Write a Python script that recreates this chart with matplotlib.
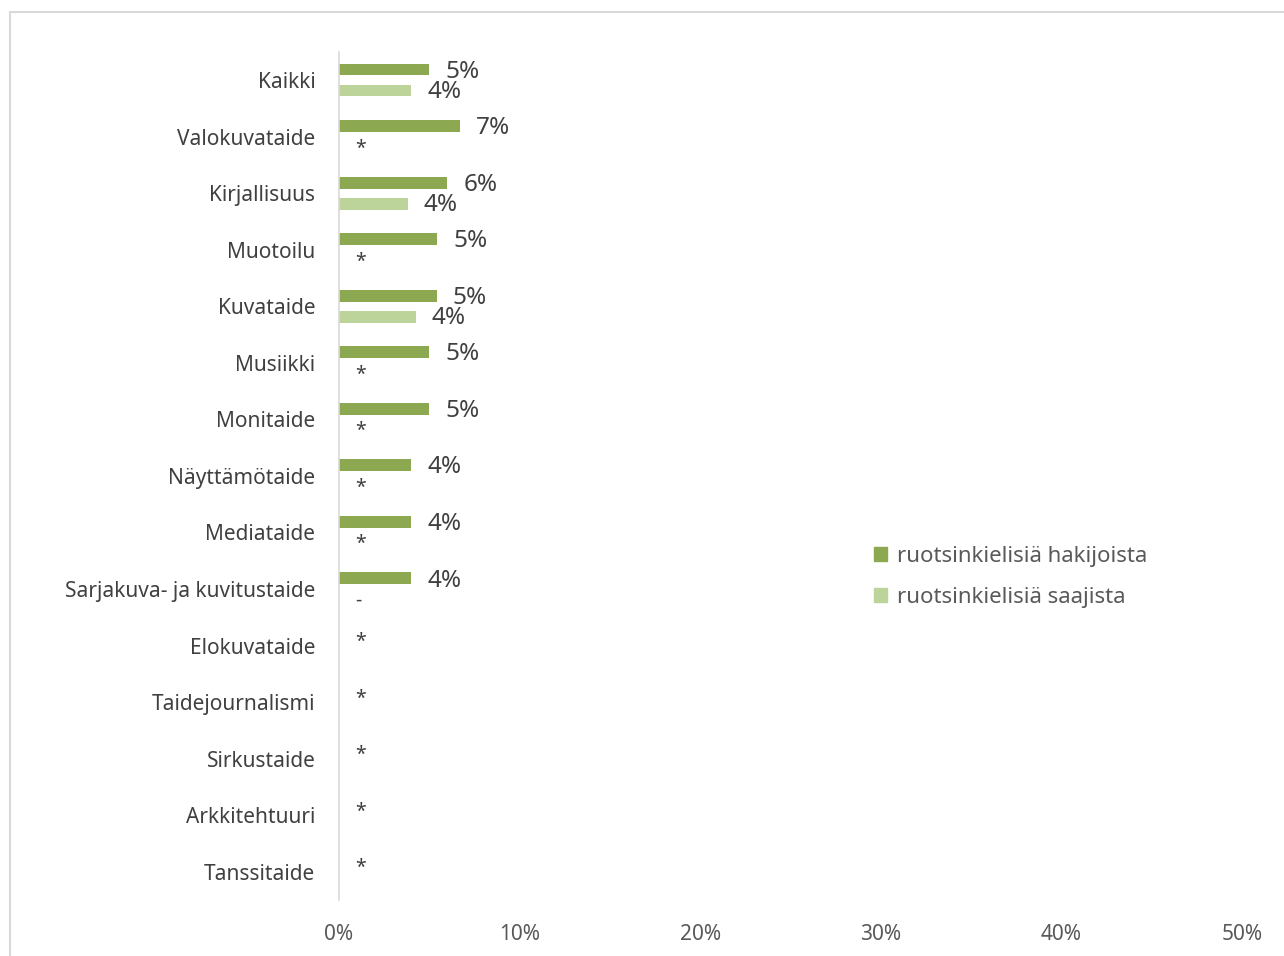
#!/usr/bin/env python3
"""
Share of Swedish-speaking applicants and recipients by art form.
Horizontal grouped bar chart, x-axis 0-50 %.
"""

import numpy as np
import matplotlib.pyplot as plt
from matplotlib.patches import Rectangle, Patch

categories = ["Kaikki", "Valokuvataide", "Kirjallisuus", "Muotoilu", "Kuvataide",
              "Musiikki", "Monitaide", "Näyttämötaide", "Mediataide",
              "Sarjakuva- ja kuvitustaide", "Elokuvataide", "Taidejournalismi",
              "Sirkustaide", "Arkkitehtuuri", "Tanssitaide"]

# values in percent (0 = no bar shown)
hakijat = [5.0, 6.7, 6.0, 5.45, 5.4, 5.0, 5.0, 4.0, 4.0, 4.0, 0, 0, 0, 0, 0]
saajat = [4.0, 0, 3.8, 0, 4.25, 0, 0, 0, 0, 0, 0, 0, 0, 0, 0]

hakijat_labels = ["5%", "7%", "6%", "5%", "5%", "5%", "5%", "4%", "4%", "4%",
                  "*", "*", "*", "*", "*"]
saajat_labels = ["4%", "*", "4%", "*", "4%", "*", "*", "*", "*", "-",
                 "", "", "", "", ""]

series_names = ["ruotsinkielisiä hakijoista", "ruotsinkielisiä saajista"]
xticks = [0, 10, 20, 30, 40, 50]

dark = "#8CA851"
light = "#BCD39A"
text_col = "#404040"
tick_col = "#595959"

plt.rcParams['font.family'] = ['Noto Sans', 'DejaVu Sans']

fig = plt.figure(figsize=(12.84, 9.56), dpi=100)
ax = fig.add_axes([0.2640, 0.0586, 0.7033, 0.8873])

# outer chart border (only top and left visible)
fig.patches.append(Rectangle((10 / 1284, -0.1), 1.2, 0.1 + (956 - 12) / 956,
                             transform=fig.transFigure, fill=False,
                             edgecolor="#D9D9D9", linewidth=1.5))

y = np.arange(len(categories))
off = 0.186
h = 0.21

ax.barh(y - off, hakijat, height=h, color=dark, label=series_names[0])
ax.barh(y + off, saajat, height=h, color=light, label=series_names[1])

for i in range(len(categories)):
    ypos = y[i] - off if hakijat[i] > 0 else y[i] - off + 0.09
    ax.annotate(hakijat_labels[i], (hakijat[i], ypos), xytext=(11.5, -1.5),
                textcoords="offset points", ha="left", va="center",
                fontsize=17.5 if hakijat_labels[i].endswith("%") else 14,
                color=text_col)
    if saajat_labels[i]:
        ax.annotate(saajat_labels[i], (saajat[i], y[i] + off), xytext=(11.5, -1),
                    textcoords="offset points", ha="left", va="center",
                    fontsize=17.5 if saajat_labels[i].endswith("%") else 14,
                    color=text_col)

ax.set_xlim(0, 50)
ax.set_ylim(len(categories) - 0.5, -0.5)
ax.set_xticks(xticks)
ax.set_xticklabels([f"{t}%" for t in xticks])
ax.set_yticks(y)
ax.set_yticklabels(categories)

ax.tick_params(axis="x", length=0, pad=17.5, labelsize=15, labelcolor=tick_col)
ax.tick_params(axis="y", length=0, pad=17, labelsize=15, labelcolor=text_col)

for s in ["top", "right", "bottom"]:
    ax.spines[s].set_visible(False)
ax.spines["left"].set_color("#D9D9D9")
ax.spines["left"].set_linewidth(1.2)

handles = [Patch(color=dark), Patch(color=light)]
fig.legend(handles, series_names, loc="center left",
           bbox_to_anchor=(0.665, 0.3965), frameon=False, fontsize=16,
           labelcolor=tick_col, handlelength=0.6, handleheight=0.6,
           handletextpad=0.45, labelspacing=0.92)

plt.savefig("out.png", dpi=100)
